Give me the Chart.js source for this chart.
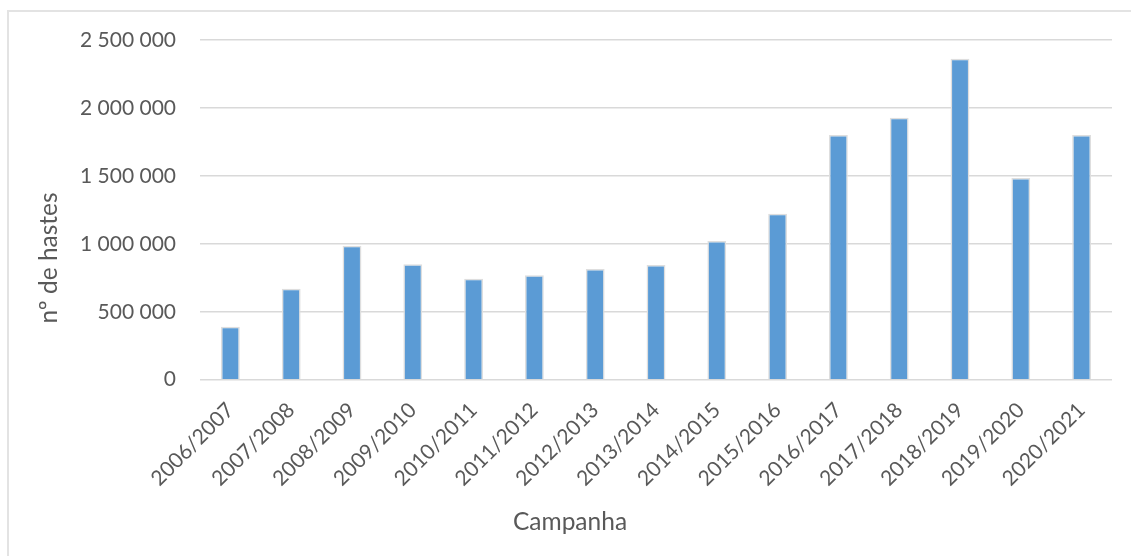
<!DOCTYPE html>
<html>
<head>
<meta charset="utf-8">
<script src="https://cdn.jsdelivr.net/npm/chart.js"></script>
<style>
  html, body { margin: 0; padding: 0; background: #fff; overflow: hidden; }
  #frame { position: absolute; left: 7px; top: 10px; width: 2000px; height: 2000px; border: 2px solid #e3e3e3; }
  #chart { position: absolute; left: 0; top: 0; }
</style>
</head>
<body>
<div id="frame"></div>
<canvas id="chart" width="1131" height="556"></canvas>
<script>
const campanhas = ['2006/2007', '2007/2008', '2008/2009', '2009/2010', '2010/2011', '2011/2012', '2012/2013',
  '2013/2014', '2014/2015', '2015/2016', '2016/2017', '2017/2018', '2018/2019', '2019/2020', '2020/2021'];
const hastes = [390000, 670000, 985000, 850000, 743000, 768000, 815000, 845000, 1020000, 1222000,
  1800000, 1928000, 2362000, 1484000, 1800000];
const yTicks = [0, 500000, 1000000, 1500000, 2000000, 2500000];
const xTitle = 'Campanha';
const yTitle = 'nº de hastes';

const textColor = '#595959';
const gridColor = '#d9d9d9';
const fmt = v => String(v).replace(/\B(?=(\d{3})+(?!\d))/g, ' ');

// Excel puts the axis titles off the plot centre, so draw them ourselves
const axisTitles = {
  id: 'axisTitles',
  afterDraw(chart) {
    const ctx = chart.ctx;
    ctx.save();
    ctx.fillStyle = textColor;
    ctx.font = '24.5px Lato';
    ctx.textAlign = 'center';
    ctx.textBaseline = 'middle';
    ctx.fillText(xTitle, 570, 522);
    ctx.translate(49, 258);
    ctx.rotate(-Math.PI / 2);
    ctx.fillText(yTitle, 0, 0);
    ctx.restore();
  }
};

new Chart(document.getElementById('chart'), {
  type: 'bar',
  data: {
    labels: campanhas,
    datasets: [{
      data: hastes,
      backgroundColor: '#5b9bd5',
      borderColor: '#dedede',
      borderWidth: 1.5,
      barPercentage: 0.31,
      categoryPercentage: 1
    }]
  },
  options: {
    responsive: false,
    animation: false,
    layout: { padding: { left: 0, right: 19, top: 40, bottom: 0 } },
    plugins: { legend: { display: false }, tooltip: { enabled: false } },
    scales: {
      x: {
        grid: { display: false },
        border: { display: false },
        ticks: { color: textColor, font: { family: 'Lato', size: 21 }, maxRotation: 45, minRotation: 45, padding: 10, autoSkip: false },
        afterFit: s => { s.height = 176.3; }
      },
      y: {
        min: 0,
        max: 2500000,
        afterBuildTicks: s => { s.ticks = yTicks.map(v => ({ value: v })); },
        grid: { color: gridColor, lineWidth: 1.4, drawTicks: false },
        border: { display: false },
        ticks: { color: textColor, font: { family: 'Lato', size: 21 }, padding: 24, callback: v => fmt(v) },
        afterFit: s => { s.width = 200; }
      }
    }
  },
  plugins: [axisTitles]
});
</script>
</body>
</html>
